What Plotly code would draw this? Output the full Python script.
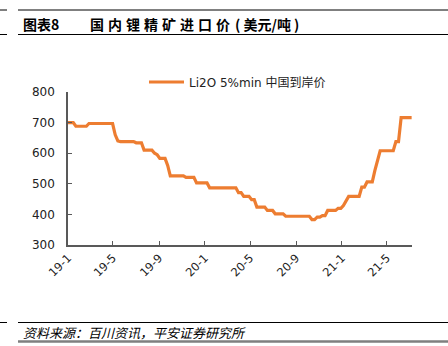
import plotly.graph_objects as go
import pandas as pd

# Weekly Li2O 5%min CIF China price (USD/t)
start_date = "2019-01-01"
prices = [
    700, 700, 700,
    688, 688, 688, 688, 688,
    697, 697, 697, 697, 697, 697, 697, 697, 697, 697,
    660, 640, 638, 638, 638, 638, 638, 638,
    634, 634, 634,
    610, 610, 610, 610,
    600, 595,
    583, 583, 583,
    560,
    526, 526, 526, 526, 526, 526,
    521, 521, 521, 521,
    503, 503, 503, 503, 503,
    487, 487, 487, 487, 487, 487, 487, 487, 487, 487, 487,
    471, 471,
    459, 459, 459,
    448, 448,
    424, 424, 424, 424,
    413, 413, 413,
    402, 402, 402, 402,
    394, 394, 394, 394, 394, 394, 394, 394, 394, 394,
    383, 383,
    391, 391,
    396, 396,
    413, 413, 413, 413,
    420, 420,
    429,
    446,
    459, 459, 459, 459, 459,
    489, 489,
    506, 506, 506,
    544,
    572,
    608, 608, 608, 608, 608, 608,
    638, 638,
    716, 716, 716, 716, 716,
]
dates = pd.date_range(start_date, periods=len(prices), freq="7D")

tick_dates = ["2019-01-01", "2019-05-01", "2019-09-01", "2020-01-01",
              "2020-05-01", "2020-09-01", "2021-01-01", "2021-05-01"]
tick_labels = ["19-1", "19-5", "19-9", "20-1", "20-5", "20-9", "21-1", "21-5"]
y_ticks = [300, 400, 500, 600, 700, 800]

series_name = "Li2O 5%min 中国到岸价"
title_num = "图表8"
title_main = "国内锂精矿进口价"
title_unit = "( 美元/吨 )"
source_text = "资料来源：百川资讯，平安证券研究所"

W, H = 448, 346
L, R, T, B = 68, 412, 92, 245

def px(x):
    return (x - L) / (R - L)

def py(y):
    return (B - y) / (B - T)

fig = go.Figure()
fig.add_trace(go.Scatter(
    x=dates, y=prices, mode="lines", name=series_name,
    line=dict(color="#ED7D31", width=3.2),
))

font_cjk = "Noto Sans CJK SC, sans-serif"
font_lat = "DejaVu Sans, " + font_cjk
axis_col = "#595959"

fig.update_layout(
    width=W, height=H,
    margin=dict(l=L, r=W - R, t=T, b=H - B, pad=0),
    paper_bgcolor="white", plot_bgcolor="white",
    font=dict(family=font_lat, color="black", size=12),
    showlegend=True,
    legend=dict(
        x=px(144), y=py(82), xanchor="left", yanchor="middle",
        font=dict(size=12, family=font_lat, color="#222"),
        bgcolor="rgba(0,0,0,0)", itemwidth=35,
    ),
    xaxis=dict(
        range=["2019-01-01", "2021-07-07"],
        tickvals=tick_dates, ticktext=tick_labels, tickangle=-45,
        ticks="inside", ticklen=4, tickcolor=axis_col, tickwidth=1,
        showline=True, linecolor=axis_col, linewidth=1.5,
        showgrid=False, zeroline=False,
        tickfont=dict(size=11.5, family=font_lat, color="#222"),
    ),
    yaxis=dict(
        range=[300, 800], tickvals=y_ticks,
        ticks="inside", ticklen=4, tickcolor=axis_col, tickwidth=1,
        showline=True, linecolor=axis_col, linewidth=1.5,
        showgrid=False, zeroline=False,
        ticklabelstandoff=9,
        tickfont=dict(size=12, family=font_lat, color="#222"),
    ),
)

shapes = []
def hline(x0, x1, y, color="black", width=1):
    shapes.append(dict(type="line", xref="paper", yref="paper",
                       x0=px(x0), x1=px(x1), y0=py(y), y1=py(y),
                       line=dict(color=color, width=width)))

for yy in (10, 34.5, 322.5):
    hline(0, 7, yy)
    hline(18, 448, yy)
hline(18, 448, 341.5, color="#7F7F7F", width=2.5)
fig.update_layout(shapes=shapes)

fig.add_annotation(text="<b>" + title_num + "</b>", xref="paper", yref="paper",
                   x=px(21), y=py(24), xanchor="left", yanchor="middle",
                   showarrow=False, font=dict(size=14, family=font_cjk, color="black"))
fig.add_annotation(text='<b><span style="letter-spacing:4px">' + title_main + "</span></b>",
                   xref="paper", yref="paper",
                   x=px(88), y=py(24), xanchor="left", yanchor="middle",
                   showarrow=False, font=dict(size=14, family=font_cjk, color="black"))
fig.add_annotation(text="<b>" + title_unit + "</b>",
                   xref="paper", yref="paper",
                   x=px(233), y=py(24), xanchor="left", yanchor="middle",
                   showarrow=False, font=dict(size=14, family=font_cjk, color="black"))
fig.add_annotation(text="<i>" + source_text + "</i>", xref="paper", yref="paper",
                   x=px(21), y=py(332), xanchor="left", yanchor="middle",
                   showarrow=False, font=dict(size=13, family=font_cjk, color="black"))

fig.write_html("out.html")
